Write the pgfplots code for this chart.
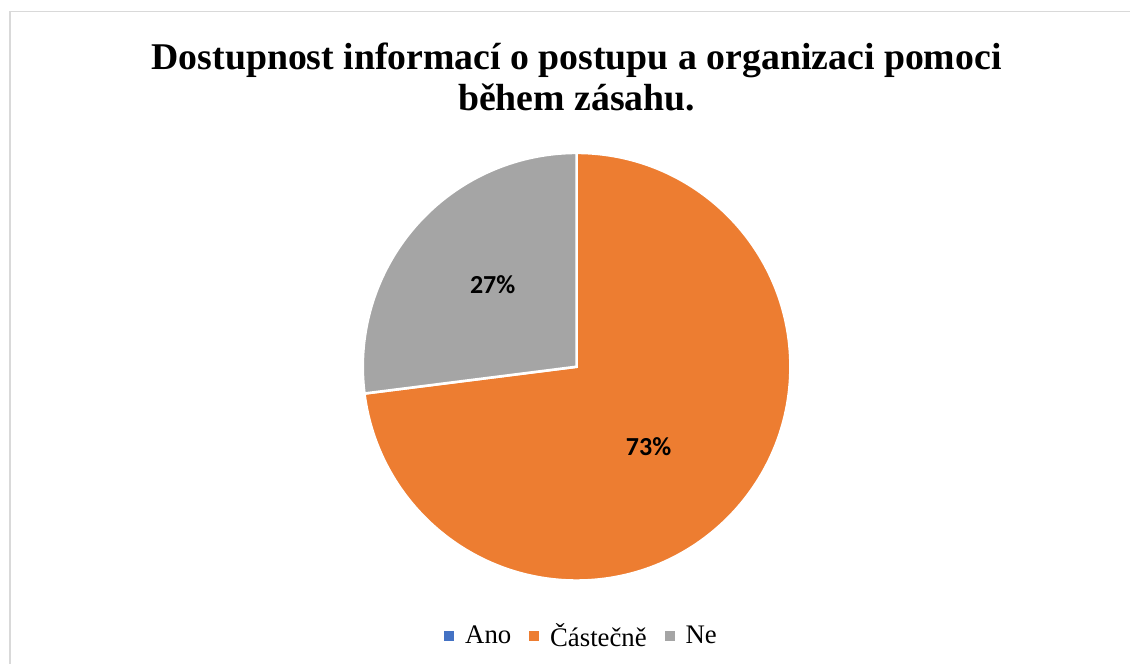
\documentclass[border=0pt]{standalone}
\usepackage{pgfplots}
\pgfplotsset{compat=1.18}
\usepackage{fontspec}
\setmainfont{Liberation Serif}
\newfontfamily\labelfont{Carlito}
\definecolor{cAno}{HTML}{4472C4}
\definecolor{cCas}{HTML}{ED7D31}
\definecolor{cNe}{HTML}{A5A5A5}
\definecolor{cBorder}{HTML}{D9D9D9}
% values in percent
\def\vAno{0}
\def\vCas{73}
\def\vNe{27}
\begin{document}
\begin{tikzpicture}
\begin{axis}[
  width=565.5pt, height=332pt, scale only axis,
  xmin=0, xmax=1131, ymin=0, ymax=664,
  hide axis, clip=false,
  legend columns=-1,
  legend style={draw=none, fill=none, at={(axis cs:583,27)}, anchor=center,
    font=\fontsize{13.4pt}{15pt}\selectfont,
    /tikz/every odd column/.append style={column sep=3.5pt},
    /tikz/every even column/.append style={column sep=7pt}},
  legend image code/.code={\fill[#1] (0pt,-2.0pt) rectangle (4.5pt,2.5pt);},
]
\fill[white] (axis cs:0,0) rectangle (axis cs:1131,664);
\draw[cBorder, line width=0.8pt] (axis cs:10,0) -- (axis cs:10,652.5) -- (axis cs:1131,652.5);
\addlegendimage{cAno}\addlegendentry{Ano}
\addlegendimage{cCas}\addlegendentry{Částečně}
\addlegendimage{cNe}\addlegendentry{Ne}
% slices, start at 90 deg going clockwise
\pgfmathsetmacro{\aA}{90}
\pgfmathsetmacro{\aB}{90-3.6*\vAno}
\pgfmathsetmacro{\aC}{\aB-3.6*\vCas}
\pgfmathsetmacro{\aD}{\aC-3.6*\vNe}
\filldraw[fill=cCas, draw=white, line width=1.3pt] (axis cs:577,297) -- ++(\aB:107pt) arc[start angle=\aB, end angle=\aC, radius=107pt] -- cycle;
\filldraw[fill=cNe, draw=white, line width=1.3pt] (axis cs:577,297) -- ++(\aC:107pt) arc[start angle=\aC, end angle=\aD, radius=107pt] -- cycle;
\node[font=\labelfont\bfseries\fontsize{13pt}{15pt}\selectfont] at (axis cs:493,379) {27\%};
\node[font=\labelfont\bfseries\fontsize{13pt}{15pt}\selectfont] at (axis cs:649,217) {73\%};
\node[font=\bfseries\fontsize{18.9pt}{20.5pt}\selectfont, align=center] at (axis cs:577,587) {Dostupnost informací o postupu a organizaci pomoci\\během zásahu.};
\end{axis}
\end{tikzpicture}
\end{document}
